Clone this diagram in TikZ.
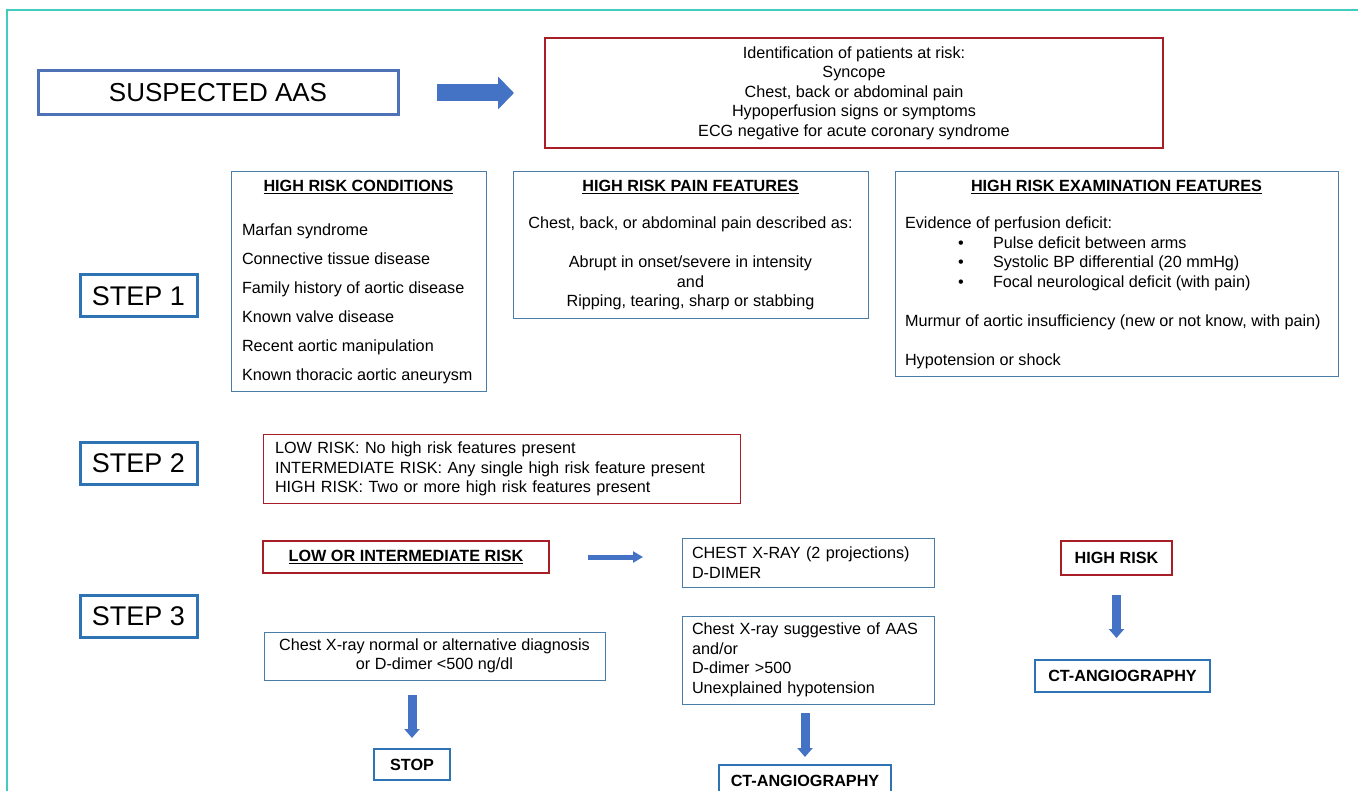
\documentclass[tikz,border=0pt]{standalone}
\usepackage{fontspec}
\setmainfont{Liberation Sans}
\usepackage{xcolor}
\usetikzlibrary{positioning,arrows.meta}
\definecolor{frameteal}{HTML}{3FCDBE}
\definecolor{aasblue}{HTML}{4F71B5}
\definecolor{stepblue}{HTML}{2E74B5}
\definecolor{thinblue}{HTML}{4A7EA8}
\definecolor{riskred}{HTML}{A81E26}
\definecolor{arrowblue}{HTML}{4472C4}

\begin{document}
\begin{tikzpicture}[x=1pt, y=-1pt, font=\fontsize{16.2}{19.5}\selectfont,
	every node/.style={inner sep=0pt, outer sep=0pt},
	thinbox/.style={draw=thinblue, line width=1pt},
	redthin/.style={draw=riskred, line width=1pt},
	redbox/.style={draw=riskred, line width=2.6pt},
	aasbox/.style={draw=aasblue, line width=3pt, font=\fontsize{26}{30}\selectfont},
	stepbox/.style={draw=stepblue, line width=3pt, minimum width=117pt, minimum height=42pt, font=\fontsize{27}{30}\selectfont},
	endbox/.style={draw=stepblue, line width=2pt, font=\fontsize{16.2}{19.5}\selectfont\bfseries},
	boxtitle/.style={font=\fontsize{16.2}{19.5}\selectfont\bfseries},
	fatarrow/.style={draw=arrowblue, line width=17pt, -{Triangle[length=16pt, width=32pt]}},
	thinarrow/.style={draw=arrowblue, line width=5pt, -{Triangle[length=10pt, width=11pt]}},
	downarrow/.style={draw=arrowblue, line width=9pt, -{Triangle[length=9pt, width=15pt]}}]
	\useasboundingbox (0,0) rectangle (1358,791);
	\clip (0,0) rectangle (1358,791);
	\draw[frameteal, line width=1.5pt] (1358,10) -- (7,10) -- (7,791);

	\node[aasbox, minimum width=360pt, minimum height=44pt] (aas) at (218,93) {SUSPECTED AAS};
	\node[redbox, minimum width=618pt, minimum height=110pt, align=center] (idrisk) at (854,93) {Identification of patients at risk:\\Syncope\\Chest, back or abdominal pain\\Hypoperfusion signs or symptoms\\ECG negative for acute coronary syndrome};
	\draw[fatarrow, shorten <=39pt, shorten >=31pt] (aas.east) -- (aas.east -| idrisk.west);

	\node[stepbox] (step1) at (138.5,296) {STEP 1};
	\node[stepbox] (step2) at (138.5,463.5) {STEP 2};
	\node[stepbox] (step3) at (138.5,616.5) {STEP 3};

	\node[thinbox, minimum width=255pt, minimum height=220pt] (cond) at (358.5,282) {};
	\node[boxtitle, below=8pt of cond.north] (condtitle) {\underline{HIGH RISK CONDITIONS}};
	\node[anchor=west, align=left, font=\fontsize{16.2}{29}\selectfont] (condlist) at (242,303.5) {Marfan syndrome\\Connective tissue disease\\Family history of aortic disease\\Known valve disease\\Recent aortic manipulation\\Known thoracic aortic aneurysm};

	\node[thinbox, minimum width=355pt, minimum height=147pt] (pain) at (690.5,245.5) {};
	\node[boxtitle, below=8pt of pain.north] (paintitle) {\underline{HIGH RISK PAIN FEATURES}};
	\node[align=center] (painlist) at (690.5,263.5) {Chest, back, or abdominal pain described as:\\[19.5pt]Abrupt in onset/severe in intensity\\and\\Ripping, tearing, sharp or stabbing};

	\node[thinbox, minimum width=443pt, minimum height=205pt] (exam) at (1116.5,274.5) {};
	\node[boxtitle, below=8pt of exam.north] (examtitle) {\underline{HIGH RISK EXAMINATION FEATURES}};
	\node[anchor=west, align=left] (examlist) at (905,293) {Evidence of perfusion deficit:\\
		\hspace*{53pt}\makebox[35pt][l]{\textbullet}Pulse deficit between arms\\
		\hspace*{53pt}\makebox[35pt][l]{\textbullet}Systolic BP differential (20 mmHg)\\
		\hspace*{53pt}\makebox[35pt][l]{\textbullet}Focal neurological deficit (with pain)\\[19.5pt]
		Murmur of aortic insufficiency (new or not know, with pain)\\[19.5pt]
		Hypotension or shock};

	\node[redthin, minimum width=477pt, minimum height=68pt, text width=453pt, align=left] (strat) at (501.5,469) {LOW RISK: No high risk features present\\INTERMEDIATE RISK: Any single high risk feature present\\HIGH RISK: Two or more high risk features present};

	\node[redbox, boxtitle, line width=2pt, minimum width=286pt, minimum height=32pt] (lowint) at (406,557) {\underline{LOW OR INTERMEDIATE RISK}};
	\node[thinbox, minimum width=252pt, minimum height=49pt, text width=232pt, align=left] (xray) at (808,562.5) {CHEST X-RAY (2 projections)\\D-DIMER};
	\draw[thinarrow, shorten <=39pt, shorten >=39pt] (lowint.east) -- (lowint.east -| xray.west);

	\node[redbox, boxtitle, line width=2.6pt, minimum width=111pt, minimum height=34pt] (high) at (1116.5,558) {HIGH RISK};
	\node[endbox, minimum width=175pt, minimum height=32pt] (cthigh) at (1122.5,676) {CT-ANGIOGRAPHY};
	\draw[downarrow, shorten <=20pt, shorten >=22pt] (high.south) -- (high.south |- cthigh.north);

	\node[thinbox, minimum width=341pt, minimum height=48pt, align=center] (normal) at (434.5,656) {Chest X-ray normal or alternative diagnosis\\or D-dimer <500 ng/dl};
	\node[endbox, minimum width=76pt, minimum height=31pt] (stop) at (412,764.5) {STOP};
	\draw[downarrow, shorten <=15pt, shorten >=11pt] (stop.north |- normal.south) -- (stop.north);

	\node[thinbox, minimum width=252pt, minimum height=88pt, text width=232pt, align=left] (suggest) at (808,660) {Chest X-ray suggestive of AAS\\and/or\\D-dimer >500\\Unexplained hypotension};
	\node[endbox, minimum width=172pt, minimum height=31pt] (ctlow) at (805,780.5) {CT-ANGIOGRAPHY};
	\draw[downarrow, shorten <=9pt, shorten >=8pt] (ctlow.north |- suggest.south) -- (ctlow.north);
\end{tikzpicture}
\end{document}
